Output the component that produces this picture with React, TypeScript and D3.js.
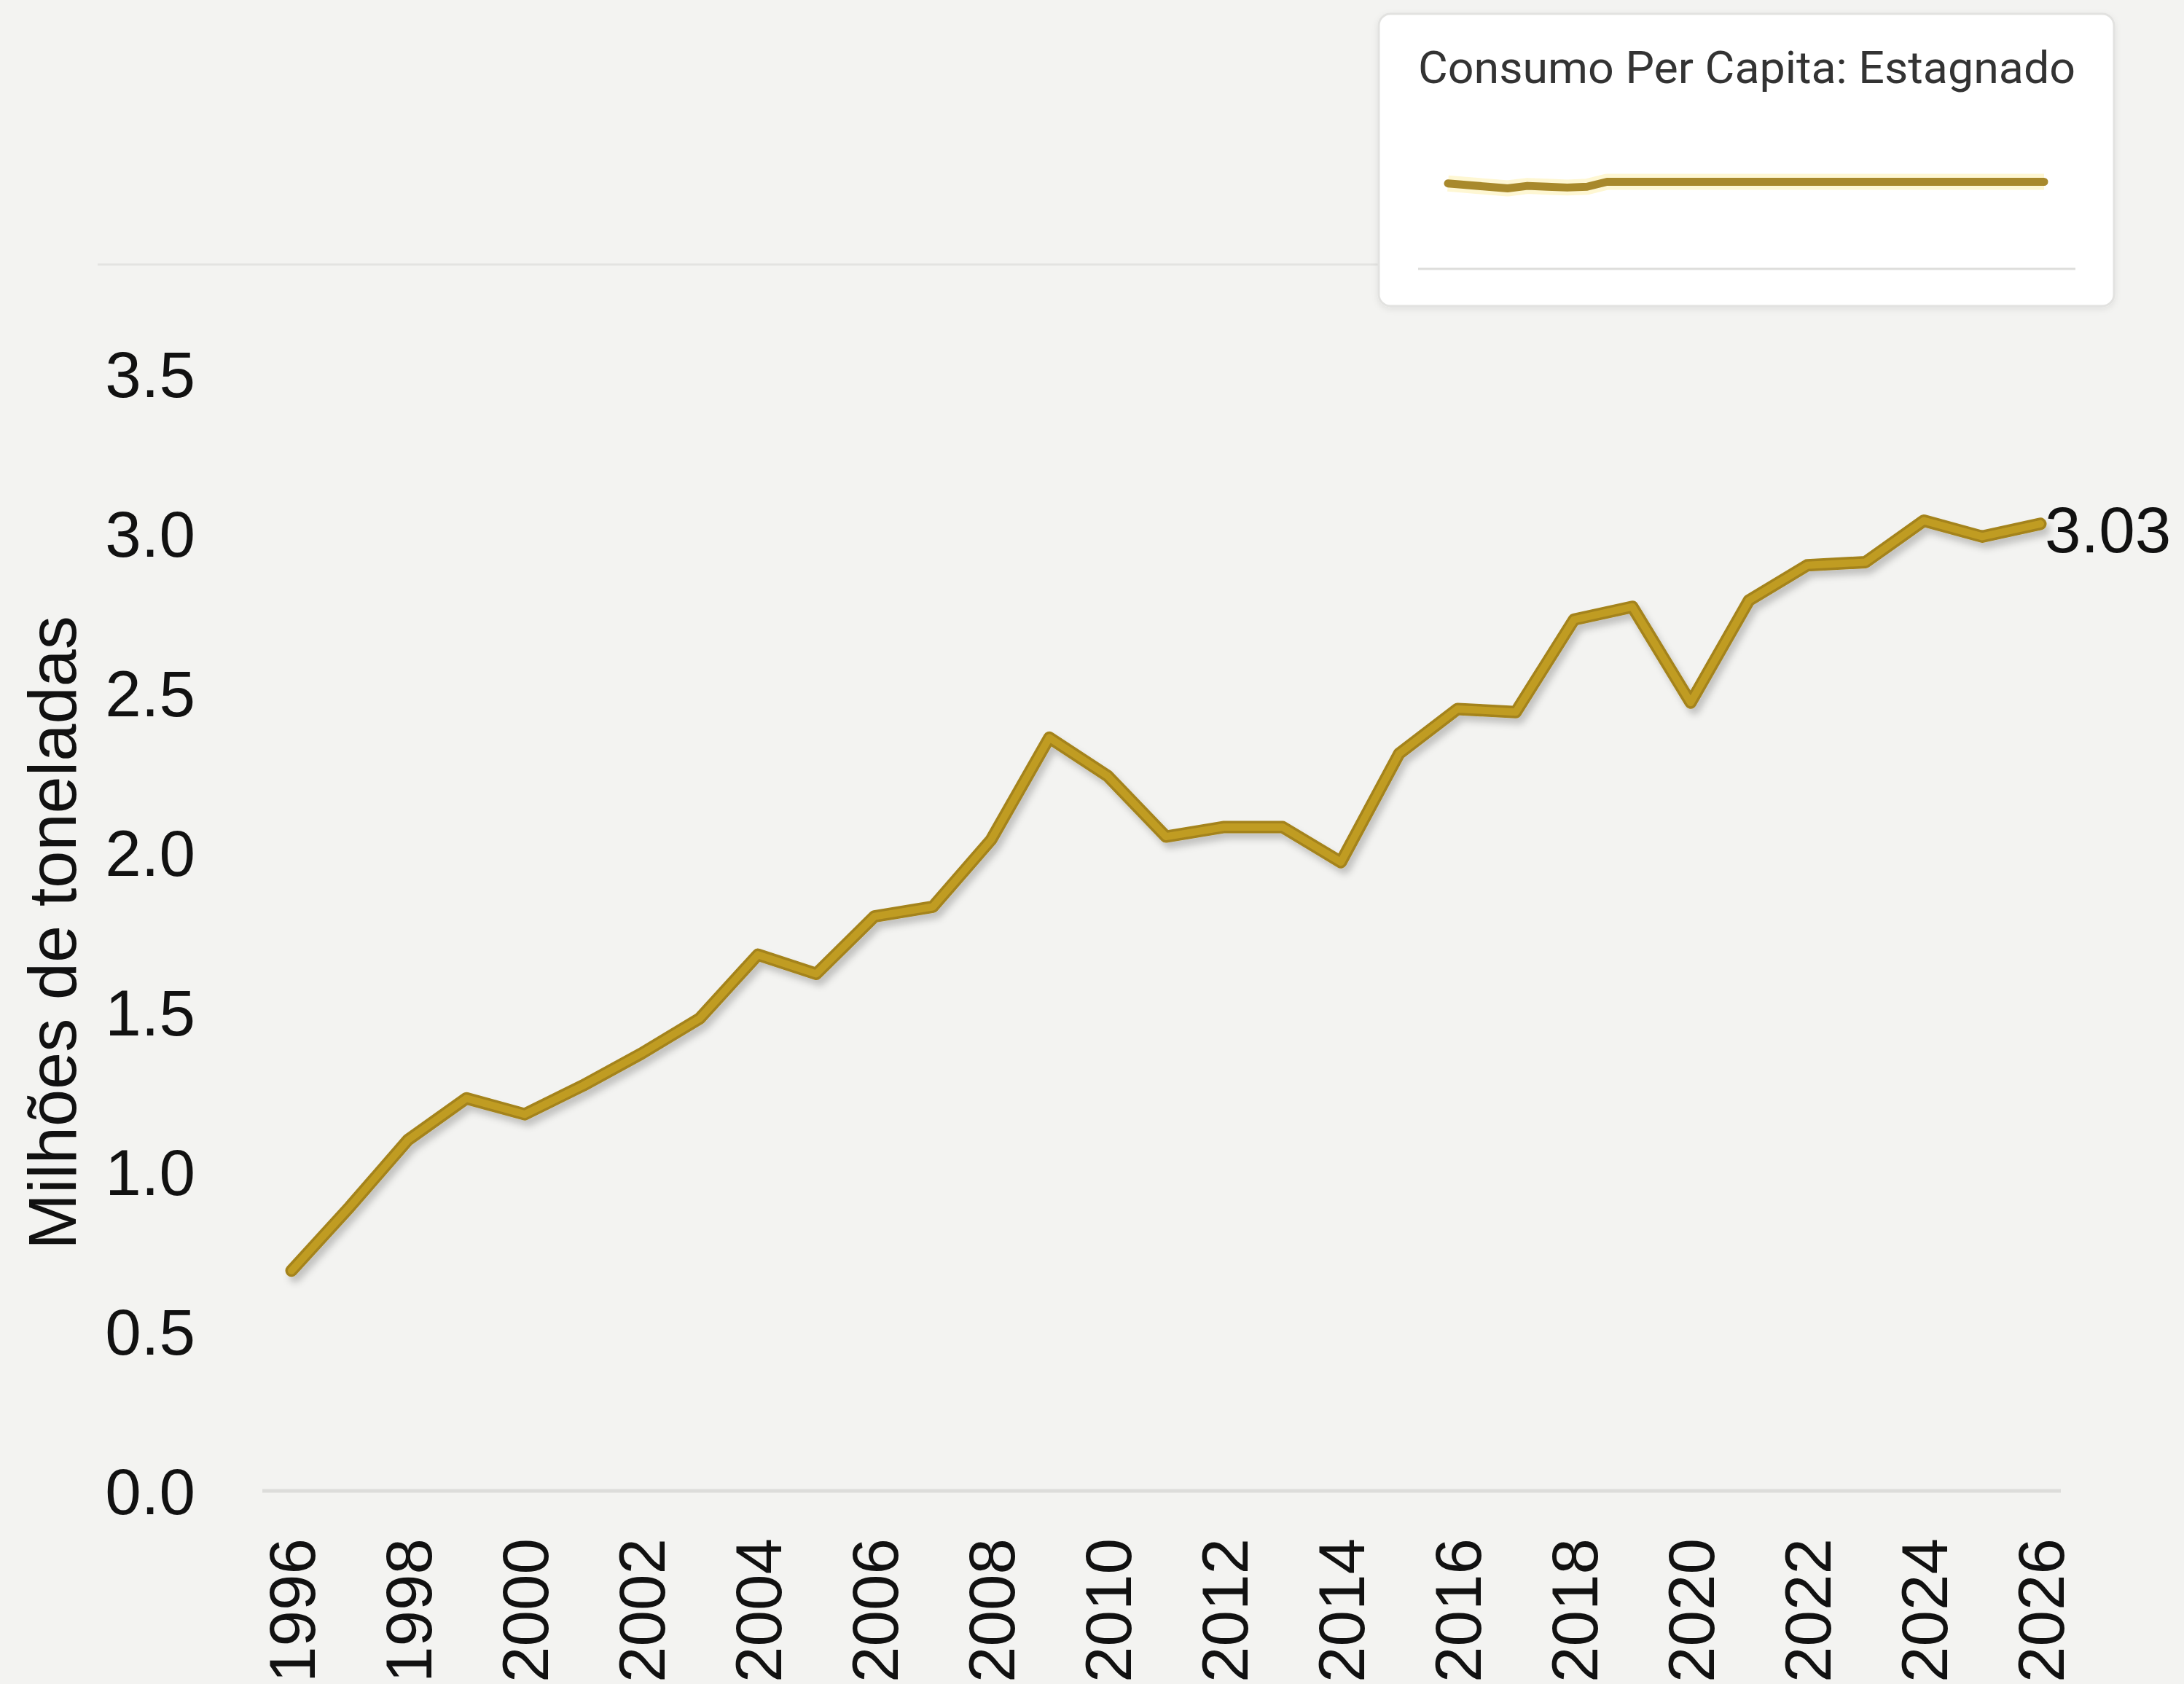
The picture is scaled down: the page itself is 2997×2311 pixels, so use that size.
import React, { useEffect, useRef } from 'react';
import * as d3 from 'd3';

// years on the x axis (one point per year)
const years = d3.range(1996, 2027);

// consumption, million tonnes
const consumo = [
  0.69, 0.89, 1.10, 1.23, 1.18, 1.27, 1.37, 1.48, 1.68, 1.62,
  1.80, 1.83, 2.04, 2.36, 2.24, 2.05, 2.08, 2.08, 1.97, 2.31,
  2.45, 2.44, 2.73, 2.77, 2.47, 2.79, 2.90, 2.91, 3.04, 2.99,
  3.03,
];

// per capita series shown as a sparkline in the legend (kg / person)
const perCapita = [
  14.9, 14.8, 14.7, 14.6, 14.75, 14.7, 14.65, 14.7, 15.0, 15.0,
  15.0, 15.0, 15.0, 15.0, 15.0, 15.0, 15.0, 15.0, 15.0, 15.0,
  15.0, 15.0, 15.0, 15.0, 15.0, 15.0, 15.0, 15.0, 15.0, 15.0,
  15.0,
];

const yTicks = [0, 0.5, 1, 1.5, 2, 2.5, 3, 3.5];
const xTicks = d3.range(1996, 2027, 2);

const legendTitle = 'Consumo Per Capita: Estagnado';
const yAxisLabel = 'Milhões de toneladas';

const App = () => {
  const svgRef = useRef(null);
  const width = 2997;
  const height = 2311;

  useEffect(() => {
    const svg = d3.select(svgRef.current);
    svg.selectAll('*').remove();

    const font = '"Liberation Sans", Arial, Helvetica, sans-serif';

    const defs = svg.append('defs');
    const shadow = defs.append('filter')
      .attr('id', 'lineShadow')
      .attr('x', '-10%').attr('y', '-10%')
      .attr('width', '120%').attr('height', '120%');
    shadow.append('feDropShadow')
      .attr('dx', 5).attr('dy', 8)
      .attr('stdDeviation', 5)
      .attr('flood-color', '#000')
      .attr('flood-opacity', 0.2);

    const boxShadow = defs.append('filter')
      .attr('id', 'boxShadow')
      .attr('x', '-5%').attr('y', '-5%')
      .attr('width', '110%').attr('height', '115%');
    boxShadow.append('feDropShadow')
      .attr('dx', 0).attr('dy', 3)
      .attr('stdDeviation', 4)
      .attr('flood-color', '#000')
      .attr('flood-opacity', 0.08);

    // background
    svg.append('rect')
      .attr('width', width)
      .attr('height', height)
      .attr('fill', '#f3f3f1');

    const x = d3.scaleLinear().domain([1996, 2026]).range([400, 2800]);
    const y = d3.scaleLinear().domain([0, 3.5]).range([2046, 513]);

    // faint separator line at the top
    svg.append('line')
      .attr('x1', 134).attr('x2', 2900)
      .attr('y1', 363).attr('y2', 363)
      .attr('stroke', '#e3e3e1')
      .attr('stroke-width', 3);

    // baseline
    svg.append('line')
      .attr('x1', 360).attr('x2', x(2026) + 28)
      .attr('y1', y(0)).attr('y2', y(0))
      .attr('stroke', '#dcdcda')
      .attr('stroke-width', 5);

    // y ticks
    svg.append('g')
      .selectAll('text')
      .data(yTicks)
      .join('text')
      .attr('x', 268)
      .attr('y', d => y(d))
      .attr('dy', '0.36em')
      .attr('text-anchor', 'end')
      .style('font-family', font)
      .style('font-size', '89px')
      .attr('fill', '#111')
      .text(d => d3.format('.1f')(d));

    // x ticks (rotated)
    svg.append('g')
      .selectAll('text')
      .data(xTicks)
      .join('text')
      .attr('transform', d => `translate(${x(d)},2111) rotate(-90)`)
      .attr('dy', '0.36em')
      .attr('text-anchor', 'end')
      .style('font-family', font)
      .style('font-size', '89px')
      .attr('fill', '#111')
      .text(d => d);

    // y axis label
    svg.append('text')
      .attr('transform', 'translate(104,1280) rotate(-90)')
      .attr('text-anchor', 'middle')
      .style('font-family', font)
      .style('font-size', '92px')
      .attr('fill', '#111')
      .text(yAxisLabel);

    // main line
    const pts = years.map((yr, i) => ({ yr, v: consumo[i] }));
    const line = d3.line()
      .x(d => x(d.yr))
      .y(d => y(d.v));

    const lineG = svg.append('g').attr('filter', 'url(#lineShadow)');
    lineG.append('path')
      .datum(pts)
      .attr('d', line)
      .attr('fill', 'none')
      .attr('stroke', '#a4831a')
      .attr('stroke-width', 17)
      .attr('stroke-linejoin', 'round')
      .attr('stroke-linecap', 'round');
    lineG.append('path')
      .datum(pts)
      .attr('d', line)
      .attr('fill', 'none')
      .attr('stroke', '#c09c24')
      .attr('stroke-width', 10)
      .attr('stroke-linejoin', 'round')
      .attr('stroke-linecap', 'round');

    // end label
    const last = pts[pts.length - 1];
    svg.append('text')
      .attr('x', x(last.yr) + 6)
      .attr('y', y(last.v) + 7)
      .attr('dy', '0.36em')
      .style('font-family', font)
      .style('font-size', '89px')
      .attr('fill', '#111')
      .text(last.v.toFixed(2));

    // legend box
    const lg = svg.append('g');
    lg.append('rect')
      .attr('x', 1892).attr('y', 19)
      .attr('width', 1009).attr('height', 401)
      .attr('rx', 16)
      .attr('fill', '#ffffff')
      .attr('stroke', '#e2e2e0')
      .attr('stroke-width', 3)
      .attr('filter', 'url(#boxShadow)');

    lg.append('text')
      .attr('x', 1946)
      .attr('y', 114)
      .attr('textLength', 902)
      .attr('lengthAdjust', 'spacingAndGlyphs')
      .style('font-family', 'Roboto, "Liberation Sans", sans-serif')
      .style('font-size', '62px')
      .attr('fill', '#333')
      .text(legendTitle);

    const lx = d3.scaleLinear().domain([1996, 2026]).range([1987, 2805]);
    const ly = d3.scaleLinear().domain([14, 16]).range([272, 227]);
    const spark = d3.line()
      .x(d => lx(d.yr))
      .y(d => ly(d.v));
    const sparkPts = years.map((yr, i) => ({ yr, v: perCapita[i] }));

    lg.append('path')
      .datum(sparkPts)
      .attr('d', spark)
      .attr('fill', 'none')
      .attr('stroke', '#fdf3c0')
      .attr('stroke-width', 22)
      .attr('stroke-opacity', 0.7)
      .attr('stroke-linejoin', 'round');
    lg.append('path')
      .datum(sparkPts)
      .attr('d', spark)
      .attr('fill', 'none')
      .attr('stroke', '#a8892c')
      .attr('stroke-width', 11)
      .attr('stroke-linejoin', 'round')
      .attr('stroke-linecap', 'round');

    lg.append('line')
      .attr('x1', 1946).attr('x2', 2848)
      .attr('y1', 369).attr('y2', 369)
      .attr('stroke', '#dddddb')
      .attr('stroke-width', 3);
  }, []);

  return (
    <svg
      ref={svgRef}
      width={width}
      height={height}
      style={{ position: 'absolute', left: 0, top: 0, display: 'block' }}
    />
  );
};

export default App;
